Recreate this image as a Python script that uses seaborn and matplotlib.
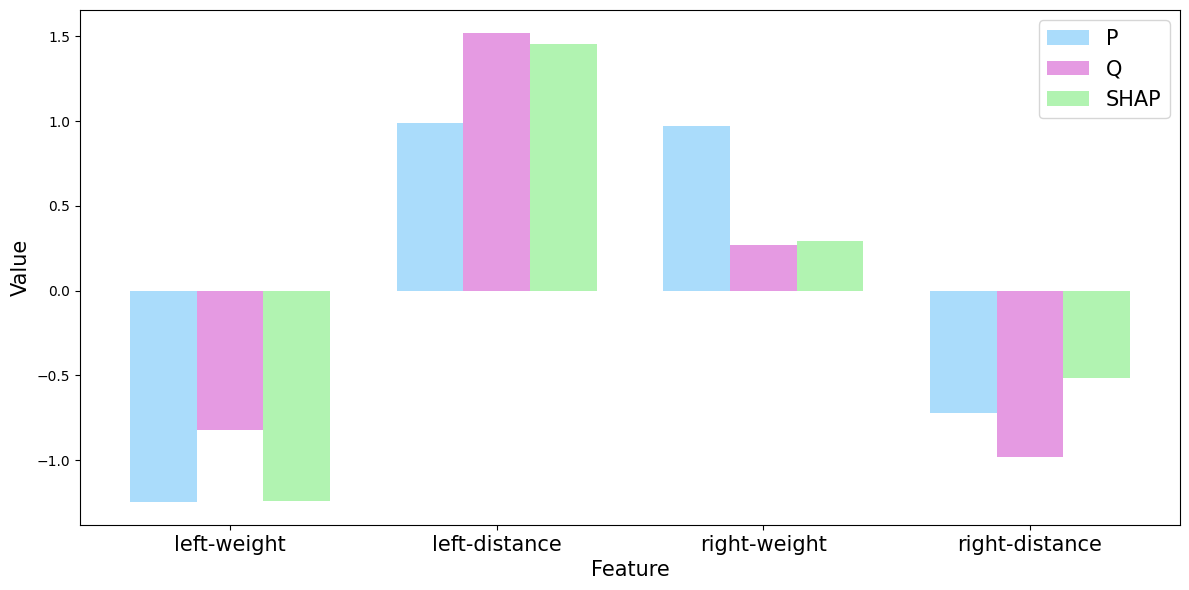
import pandas as pd
import seaborn as sns
import matplotlib.pyplot as plt

# Values
features = ["left-weight", "left-distance", "right-weight", "right-distance"]
p_vals = [-1.244, 0.992, 0.969, -0.720]
q_vals = [-0.821, 1.518, 0.272, -0.980]
shap_vals = [-1.240, 1.453, 0.295, -0.514]
methods = ["P", "Q", "SHAP"]
colors = ["lightskyblue", "orchid", "lightgreen"]

# Long form table for seaborn
df = pd.DataFrame({
    "Feature": features * 3,
    "Value": p_vals + q_vals + shap_vals,
    "Method": [m for m in methods for _ in features],
})

fig, ax = plt.subplots(figsize=(11.89, 5.9), dpi=100)
sns.barplot(data=df, x="Feature", y="Value", hue="Method", hue_order=methods,
            order=features, palette=colors, alpha=0.7, width=0.75,
            saturation=1, errorbar=None, ax=ax)

# matplotlib-style default margins instead of seaborn's categorical limits
ax.set_xlim(-0.5625, 3.5625)
ax.set_xlabel("Feature", fontsize=15)
ax.set_ylabel("Value", fontsize=15)
ax.tick_params(axis="x", labelsize=15)
ax.legend(fontsize=15, loc="upper right", title=None)

fig.subplots_adjust(left=80 / 1189, right=1180 / 1189,
                    bottom=1 - 525 / 590, top=1 - 10 / 590)
plt.savefig("out.png")
plt.close()
